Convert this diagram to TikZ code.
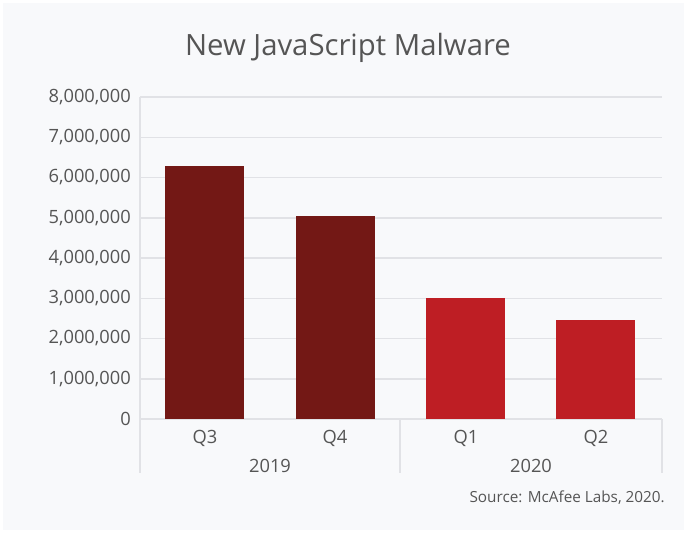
\documentclass[tikz,border=0pt]{standalone}
\usepackage{fontspec}
\setmainfont{Open Sans}
\definecolor{bg}{HTML}{F8F9FB}
\definecolor{grid}{HTML}{E1E2E6}
\definecolor{txt}{HTML}{555555}
\definecolor{darkred}{HTML}{731815}
\definecolor{brightred}{HTML}{BE1E24}
\begin{document}
\begin{tikzpicture}[x=1pt,y=-1pt,
  ylab/.style={anchor=east,text=txt,font=\fontsize{18.3}{20}\selectfont,inner sep=0pt},
  xlab/.style={anchor=center,text=txt,font=\fontsize{18.3}{20}\selectfont,inner sep=0pt},
  gridline/.style={draw=grid,line width=1.5pt},
  barA/.style={fill=darkred,draw=none},
  barB/.style={fill=brightred,draw=none}]
\useasboundingbox (0,0) rectangle (687,533);
\fill[white] (0,0) rectangle (687,533);
\fill[bg] (3,3) rectangle (684,530);
% title
\node[text=txt,font=\fontsize{29.3}{32}\selectfont,inner sep=0pt] (title) at (348,48) {New JavaScript Malware};
% grid lines and y labels
\foreach \i/\lab in {0/0,1/{1,000,000},2/{2,000,000},3/{3,000,000},4/{4,000,000},5/{5,000,000},6/{6,000,000},7/{7,000,000},8/{8,000,000}}{
  \pgfmathsetmacro{\yy}{419-40.25*\i}
  \draw[gridline] (140,\yy) -- (662,\yy);
  \node[ylab] (y\i) at (131,\yy) {\lab};
}
% axis separators
\draw[gridline] (140,97) -- (140,473);
\draw[gridline] (400,419) -- (400,473);
\draw[gridline] (662,419) -- (662,473);
\draw[grid,line width=2pt] (140,419) -- (662,419);
% bars
\fill[barA] (165,166) rectangle (244,419);
\fill[barA] (296,216) rectangle (375,419);
\fill[barB] (426,298) rectangle (505,419);
\fill[barB] (556,320) rectangle (635,419);
% category labels
\node[xlab] (q3) at (205,438) {Q3};
\node[xlab] (q4) at (335,438) {Q4};
\node[xlab] (q1) at (466,438) {Q1};
\node[xlab] (q2) at (596,438) {Q2};
\node[xlab] (y2019) at (270,466) {2019};
\node[xlab] (y2020) at (531,466) {2020};
% source
\node[anchor=east,text=txt,font=\fontsize{15.3}{17}\selectfont,inner sep=0pt] (src) at (665,498) {Source: McAfee Labs, 2020.};
\end{tikzpicture}
\end{document}
